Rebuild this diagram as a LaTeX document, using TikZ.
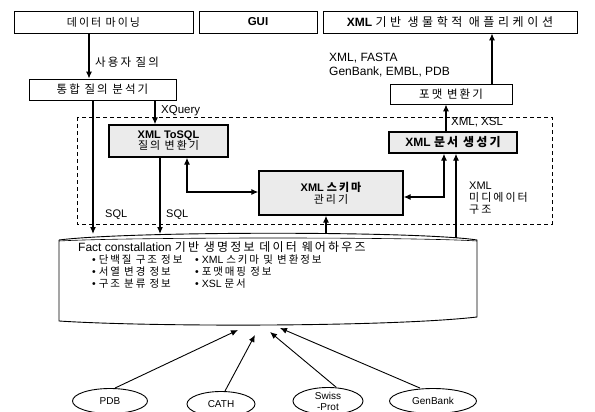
\documentclass[tikz,border=0pt]{standalone}
\usepackage{fontspec}
\setmainfont{Liberation Sans}
\newfontfamily\kr{Noto Sans CJK KR}[LetterSpace=18]
\newfontfamily\krw{Noto Sans CJK KR}[LetterSpace=30]
\usetikzlibrary{arrows.meta,shapes.geometric}
\newcommand\K[1]{{\kr #1}}
\begin{document}
\begin{tikzpicture}[x=1pt,y=-1pt,
  box/.style={draw, line width=0.9pt, inner sep=0pt, font=\fontsize{11}{13}\selectfont, fill=white},
  gbox/.style={box, line width=1.4pt, fill=gray!16, align=center, font=\fontsize{11}{13}\selectfont},
  arr/.style={line width=1.1pt, -{Latex[length=7pt,width=6pt]}},
  darr/.style={line width=1.1pt, {Latex[length=7pt,width=6pt]}-{Latex[length=7pt,width=6pt]}},
  lbl/.style={inner sep=0pt, anchor=west, font=\fontsize{11.5}{13}\selectfont},
  item/.style={inner sep=0pt, anchor=west, font=\fontsize{10.5}{12}\selectfont},
  src/.style={draw, ellipse, line width=0.9pt, inner sep=0pt, font=\fontsize{10}{11}\selectfont, align=center}]
\useasboundingbox (0,0) rectangle (595,412);

% helper coordinates
\coordinate (x89) at (89,0);
\coordinate (x155) at (155,0);
\coordinate (x187) at (187,0);
\coordinate (x444) at (444,0);
\coordinate (x446) at (446,0);
\coordinate (x492) at (492,0);
\coordinate (y192) at (0,192);
\coordinate (y197) at (0,197);

% dashed region
\draw[line width=0.8pt, dash pattern=on 4pt off 3pt] (77,117) rectangle (552,224);

% top boxes
\node[box, minimum width=179pt, minimum height=22pt] (dm) at (103.5,22) {\K{데이터 마이닝}};
\node[box, minimum width=118pt, minimum height=22pt, font=\fontsize{11.5}{13}\selectfont\bfseries] (gui) at (258,22) {GUI};
\node[box, minimum width=254pt, minimum height=22pt, font=\fontsize{12}{14}\selectfont] (app) at (450,22) {\textbf{XML} {\krw 기반 생물학적 애플리케이션}};

\node[box, minimum width=147pt, minimum height=21pt, font=\fontsize{11.5}{13}\selectfont] (qa) at (102.5,89.5) {\K{통합 질의 분석기}};
\node[box, minimum width=122pt, minimum height=20pt, font=\fontsize{11.5}{13}\selectfont] (fmt) at (451,94) {\K{포맷 변환기}};

\node[gbox, minimum width=119pt, minimum height=32pt] (tosql) at (168.5,141) {\textbf{XML ToSQL}\\[-2pt]\K{질의 변환기}};
\node[gbox, minimum width=144pt, minimum height=44pt] (schema) at (331,193) {\textbf{XML} {\kr\bfseries 스키마}\\[-1pt]\K{관리기}};
\node[gbox, minimum width=128pt, minimum height=21pt, font=\fontsize{12}{14}\selectfont] (docgen) at (453,142.5) {\textbf{XML} {\kr\bfseries 문서 생성기}};

% warehouse cylinder
\draw[line width=0.9pt] (59,240) -- (59,321) .. controls (150,327) and (390,327) .. (477,317) -- (477,240)
  .. controls (420,231) and (130,231) .. (59,240);
\draw[line width=0.6pt] (59,241) .. controls (130,237) and (420,237) .. (477,241);
\coordinate (c93) at (93,234);
\coordinate (c160) at (160,234);
\coordinate (c326) at (326,234);
\coordinate (c456) at (456,238);

\node[item, font=\fontsize{12}{14}\selectfont] (dwt) at (78,247.5) {Fact constallation \K{기반 생명정보 데이터 웨어하우즈}};
\node[item] (b1) at (92,259.5) {\textbullet\ \K{단백질 구조 정보}};
\node[item] (b2) at (92,271.5) {\textbullet\ \K{서열 변경 정보}};
\node[item] (b3) at (92,283.5) {\textbullet\ \K{구조 분류 정보}};
\node[item] (b4) at (195,259.5) {\textbullet\ XML \K{스키마 및 변환정보}};
\node[item] (b5) at (195,271.5) {\textbullet\ \K{포맷매핑 정보}};
\node[item] (b6) at (195,283.5) {\textbullet\ XSL \K{문서}};

% sources
\node[src, minimum width=75pt, minimum height=25pt] (pdb) at (110,401) {PDB};
\node[src, minimum width=68pt, minimum height=25pt] (cath) at (221,404) {CATH};
\node[src, minimum width=70pt, minimum height=27pt] (sw) at (328,401) {Swiss\\-Prot};
\node[src, minimum width=87pt, minimum height=25pt] (gb) at (433,401) {GenBank};
\coordinate (pdbT) at (238,330);
\coordinate (cathT) at (255,335);
\coordinate (swT) at (270,332);
\coordinate (gbT) at (280,328);
\draw[arr, line width=0.9pt] ([xshift=5pt]pdb.north) -- (pdbT);
\draw[arr, line width=0.9pt] ([xshift=4pt]cath.north) -- (cathT);
\draw[arr, line width=0.9pt] ([xshift=8pt]sw.north) -- (swT);
\draw[arr, line width=0.9pt] ([xshift=-13pt]gb.north) -- (gbT);

% connectors
\draw[arr] (dm.south -| x89) -- (qa.north -| x89);
\draw[arr] (qa.south -| c93) -- (c93);
\draw[arr] (qa.south -| x155) -- (tosql.north -| x155);
\draw[arr] (tosql.south -| c160) -- (c160);
\draw[darr] (tosql.south -| x187) |- (schema.west |- y192);
\draw[darr] (schema.east |- y197) -| (docgen.south -| x444);
\draw[arr] (c326) -- (schema.south -| c326);
\draw[arr] (c456) -- (docgen.south -| c456);
\draw[arr] (docgen.north -| x446) -- (fmt.south -| x446);
\draw[arr] (fmt.north -| x492) -- (app.south -| x492);

% labels
\node[lbl] (l1) at (95,62) {\K{사용자 질의}};
\node[lbl] (l2) at (161,111) {XQuery};
\node[lbl, font=\fontsize{11}{13}\selectfont] (l3) at (105,215) {SQL};
\node[lbl, font=\fontsize{11}{13}\selectfont] (l4) at (166,215) {SQL};
\node[lbl] (l5) at (451,122) {XML, XSL};
\node[lbl, anchor=north west, align=left, font=\fontsize{12}{13.5}\selectfont] (l6) at (329,53) {XML, FASTA\\GenBank, EMBL, PDB};
\node[lbl, anchor=north west, align=left, font=\fontsize{11}{12}\selectfont] (l7) at (469,182) {XML\\\K{미디에이터}\\\K{구조}};
\end{tikzpicture}
\end{document}
